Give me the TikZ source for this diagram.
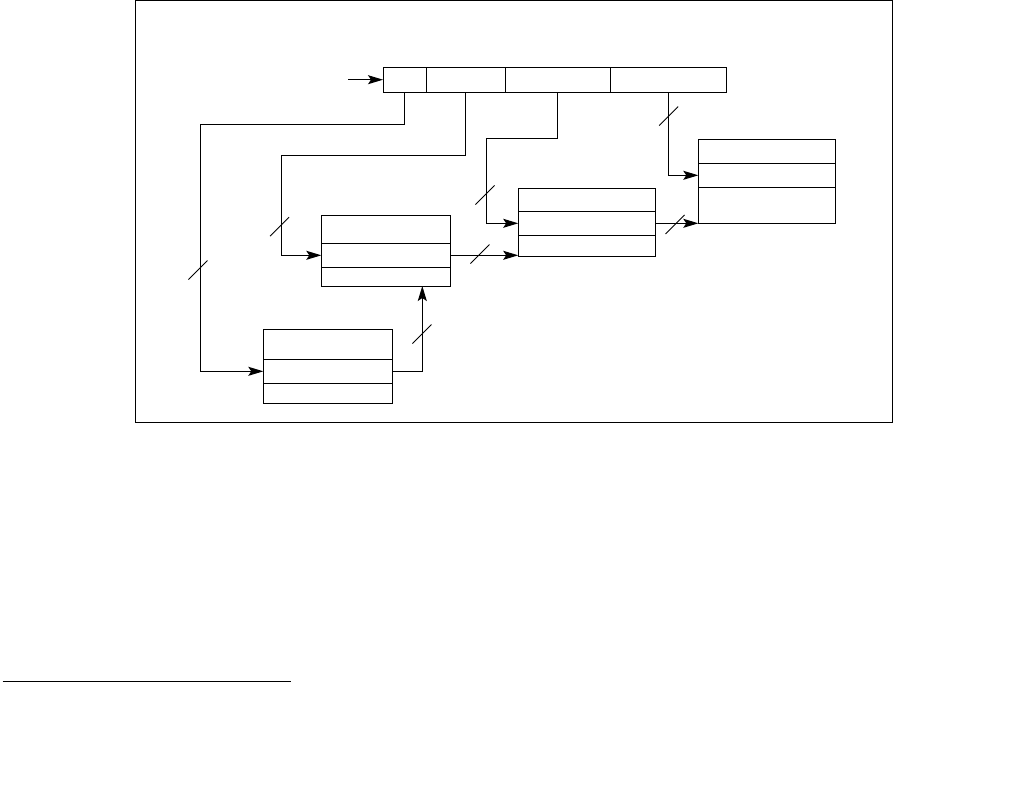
\documentclass[tikz,border=0pt]{standalone}
\usepackage{tikz}
\usetikzlibrary{
  arrows.meta,
  positioning
}

\begin{document}
\begin{tikzpicture}[
  x=1pt, y=-1pt,
  node distance=0pt,
  cell/.style 2 args={rectangle, draw=black, minimum width=#1, minimum height=#2, inner sep=0pt, outer sep=0pt, line width=1pt},
  arrow/.style={-{Stealth[length=15pt, width=9pt, inset=3pt]}, line width=1pt},
  bus/.style={line width=0.8pt},
  frame/.style={draw=black, line width=1pt}
]
\useasboundingbox (0,0) rectangle (1026,793);

% Outer frame
\draw[frame] (135,0.7) rectangle (892,422);

% Top register
\node[cell={43pt}{25pt}] (f1) at (404.5,79.7) {};
\node[cell={79pt}{25pt}, right=of f1] (f2) {};
\node[cell={105pt}{25pt}, right=of f2] (f3) {};
\node[cell={116pt}{25pt}, right=of f3] (f4) {};

% Middle boxes
\node[cell={129pt}{28pt}] (b1) at (385.8,229.3) {};
\node[cell={129pt}{24pt}, below=of b1] (b2) {};
\node[cell={129pt}{18.7pt}, below=of b2] (b3) {};

\node[cell={137pt}{23pt}] (c1) at (586.7,199.8) {};
\node[cell={137pt}{24pt}, below=of c1] (c2) {};
\node[cell={137pt}{21pt}, below=of c2] (c3) {};

\node[cell={137pt}{24pt}] (e1) at (766.8,151.3) {};
\node[cell={137pt}{24pt}, below=of e1] (e2) {};
\node[cell={137pt}{36pt}, below=of e2] (e3) {};

% Bottom box
\node[cell={129pt}{30pt}] (d1) at (327.8,344.3) {};
\node[cell={129pt}{24pt}, below=of d1] (d2) {};
\node[cell={129pt}{20pt}, below=of d2] (d3) {};

% Input
\coordinate (in) at (348,79.7);
\draw[arrow] (in) -- (f1.west);

% Arrows from the register
\draw[arrow] (f1.south) |- (200,124.5) |- (d2.west);
\draw[arrow] (f2.south) |- (281.3,155) |- (b2.west);
\draw[arrow] (f3.south) |- (486.5,138.3) |- (c2.west);
\draw[arrow] (f4.south) |- (e2.west);

% Arrows between boxes
\draw[arrow] (d2.east) -| ([xshift=36.5pt]b3.south);
\draw[arrow] (b2.east) -- (b2.east -| c3.west);
\draw[arrow] (c2.east) -- (c2.east -| e3.west);

% Bus marks
\draw[bus] (198,270) +(-9.5,9.5) -- +(9.5,-9.5);
\draw[bus] (279.5,226.7) +(-9.5,9.5) -- +(9.5,-9.5);
\draw[bus] (485,195) +(-9.5,9.5) -- +(9.5,-9.5);
\draw[bus] (668.7,116) +(-9.5,9.5) -- +(9.5,-9.5);
\draw[bus] (422,334) +(-9.5,9.5) -- +(9.5,-9.5);
\draw[bus] (480,254) +(-9.5,9.5) -- +(9.5,-9.5);
\draw[bus] (675,224.5) +(-9.5,9.5) -- +(9.5,-9.5);

% Footnote rule
\draw[line width=1pt] (2.7,681.3) -- (290.7,681.3);

\end{tikzpicture}
\end{document}
